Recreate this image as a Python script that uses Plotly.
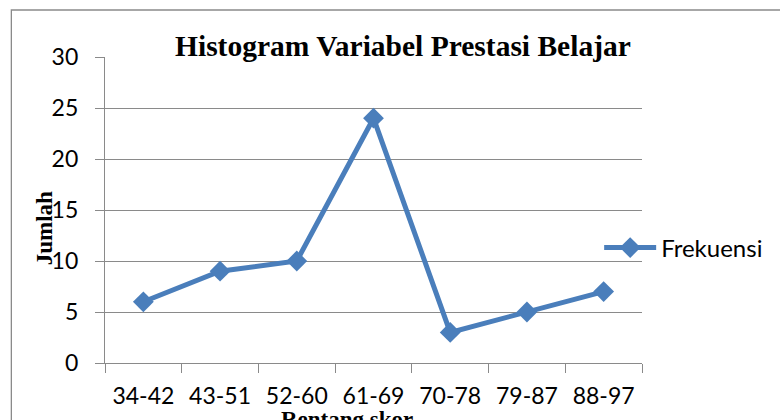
import plotly.graph_objects as go

categories = ["34-42", "43-51", "52-60", "61-69", "70-78", "79-87", "88-97"]
frekuensi = [6, 9, 10, 24, 3, 5, 7]
y_ticks = [0, 5, 10, 15, 20, 25, 30]
series_name = "Frekuensi"
title_text = "Histogram Variabel Prestasi Belajar"
x_title = "Rentang skor"
y_title = "Jumlah"

W, H = 780, 420
L, R, T, B = 105, 644, 57, 363

def px_x(p):
    return (p - L) / (R - L)

def px_y(p):
    return (B - p) / (B - T)

blue = "#4a7ebb"
grid = "#8a8a8a"
tick_font = dict(family="Lato, Open Sans, sans-serif", size=23, color="#000000")
serif_bold = "Liberation Serif, Times New Roman, serif"

fig = go.Figure()
fig.add_trace(go.Scatter(
    x=categories, y=frekuensi, name=series_name, mode="lines+markers",
    line=dict(color=blue, width=5),
    marker=dict(symbol="diamond", size=16, color=blue),
))

fig.update_layout(
    width=W, height=H,
    margin=dict(l=L, r=W - R, t=T, b=H - B, pad=0),
    paper_bgcolor="white", plot_bgcolor="white",
    showlegend=True,
    legend=dict(x=px_x(601), xanchor="left", y=px_y(248), yanchor="middle",
                font=dict(family="Lato, Open Sans, sans-serif", size=24, color="#000000"),
                bgcolor="rgba(0,0,0,0)", itemwidth=52),
    xaxis=dict(
        type="category", range=[-0.5, 6.5], showgrid=False, automargin=False,
        showline=True, linecolor=grid, linewidth=1.3,
        ticks="outside", tickson="boundaries", ticklen=9, tickcolor=grid, tickwidth=1.3,
        tickfont=tick_font, ticklabelstandoff=12,
    ),
    yaxis=dict(
        range=[0, 30], tickvals=y_ticks, showgrid=True, gridcolor=grid, gridwidth=1.3,
        showline=True, linecolor=grid, linewidth=1.3, zeroline=False, automargin=False,
        ticks="outside", ticklen=9, tickcolor=grid, tickwidth=1.3,
        tickfont=tick_font, ticklabelstandoff=12,
    ),
    shapes=[dict(type="rect", xref="paper", yref="paper",
                 x0=px_x(11), x1=px_x(W + 20), y0=px_y(H + 20), y1=px_y(10),
                 line=dict(color=grid, width=1.3), layer="below")],
    annotations=[
        dict(text="<b>" + title_text + "</b>", xref="paper", yref="paper",
             x=px_x(404), y=px_y(46), xanchor="center", yanchor="middle",
             showarrow=False, font=dict(family=serif_bold, size=29.5, color="#000")),
        dict(text="<b>" + y_title + "</b>", xref="paper", yref="paper",
             x=px_x(44), y=px_y(228), xanchor="center", yanchor="middle", textangle=-90,
             showarrow=False, font=dict(family=serif_bold, size=23, color="#000")),
        dict(text="<b>" + x_title + "</b>", xref="paper", yref="paper",
             x=px_x(348), y=px_y(419), xanchor="center", yanchor="middle",
             showarrow=False, font=dict(family=serif_bold, size=23, color="#000")),
    ],
)

fig.write_html("out.html", config={"displayModeBar": False},
               post_script="document.body.style.margin='0';")
